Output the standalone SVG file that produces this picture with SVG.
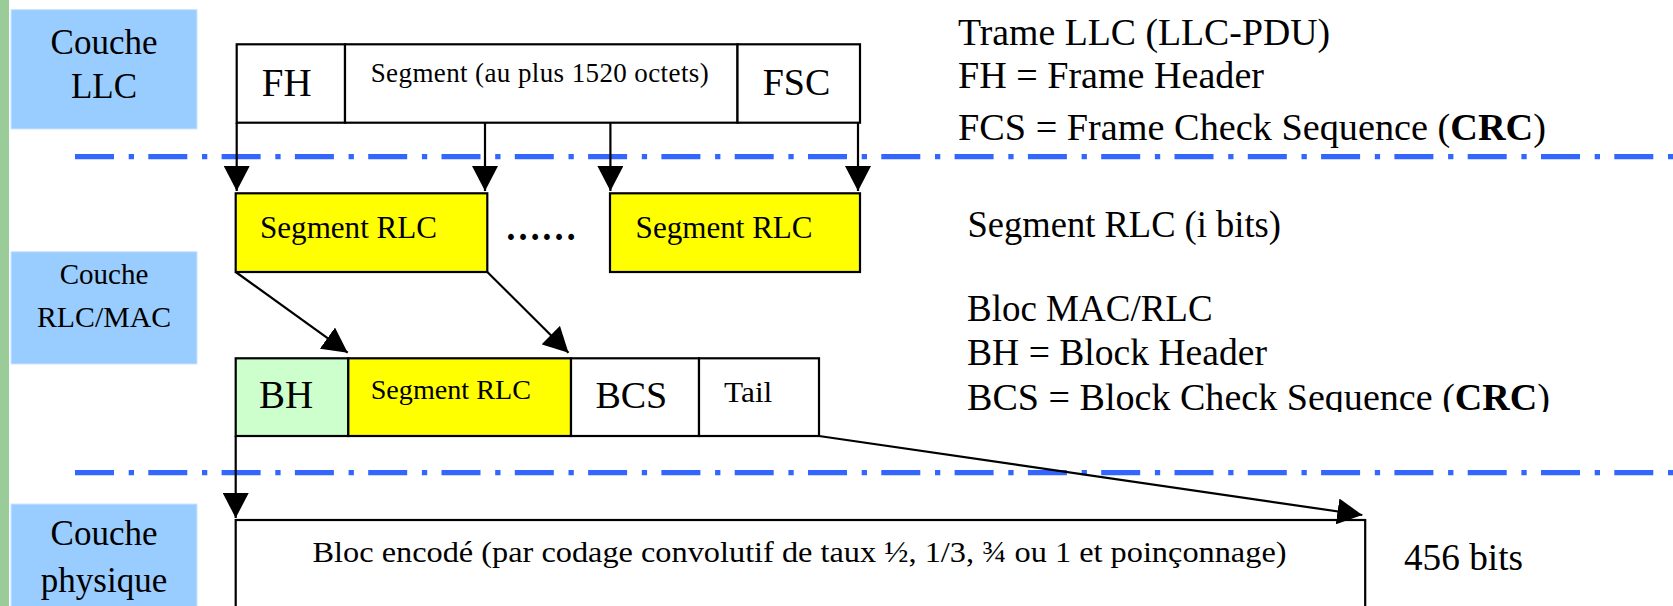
<svg xmlns="http://www.w3.org/2000/svg" width="1673" height="606" viewBox="0 0 1673 606">
<defs>
<marker id="ah" markerUnits="userSpaceOnUse" markerWidth="26" markerHeight="26" refX="25" refY="13" orient="auto" viewBox="0 0 26 26">
<path d="M0,0 L25,13 L0,26 z" fill="#000"/>
</marker>
<clipPath id="clipBCS"><rect x="900" y="370" width="700" height="42"/></clipPath>
<style>
.t{font-family:"Liberation Serif","Times New Roman",serif;fill:#000}
.layer{fill:#99CCFF;stroke:#CCE5FF;stroke-width:1}
.cell{stroke:#000;stroke-width:2.2;fill:#fff}
.y{fill:#FFFF00}
.g{fill:#CCFFCC}
.sep{stroke:#3366FF;stroke-width:5.3;stroke-dasharray:39 14.7 5.3 14.3;fill:none}
.con{stroke:#000;stroke-width:2.2;fill:none;marker-end:url(#ah)}
</style>
</defs>
<rect width="1673" height="606" fill="#fff"/>
<rect x="0" y="0" width="9" height="606" fill="#99CC99"/>

<g id="separators">
<line class="sep" x1="75" y1="156.7" x2="1673" y2="156.7"/>
<line class="sep" x1="75" y1="472.7" x2="1673" y2="472.7"/>
</g>

<g id="layer-llc">
<rect class="layer" x="11" y="9.6" width="186" height="119.4"/>
<text class="t" x="104" y="53.5" font-size="35" text-anchor="middle">Couche</text>
<text class="t" x="104" y="98" font-size="35" text-anchor="middle">LLC</text>
</g>
<g id="layer-rlcmac">
<rect class="layer" x="11" y="251.7" width="186" height="112.3"/>
<text class="t" x="104" y="284" font-size="29" text-anchor="middle">Couche</text>
<text class="t" x="104" y="326.7" font-size="29" text-anchor="middle" textLength="134" lengthAdjust="spacingAndGlyphs">RLC/MAC</text>
</g>
<g id="layer-phys">
<rect class="layer" x="11" y="504" width="186" height="110"/>
<text class="t" x="104" y="545" font-size="35" text-anchor="middle">Couche</text>
<text class="t" x="104" y="591.7" font-size="35" text-anchor="middle">physique</text>
</g>

<g id="llc-frame">
<rect class="cell" x="236.7" y="44.3" width="108.3" height="78.4"/>
<rect class="cell" x="345" y="44.3" width="392.5" height="78.4"/>
<rect class="cell" x="737.5" y="44.3" width="122.5" height="78.4"/>
<text class="t" x="286.7" y="95.7" font-size="39" text-anchor="middle">FH</text>
<text class="t" x="370.7" y="81.7" font-size="27" textLength="338" lengthAdjust="spacing">Segment (au plus 1520 octets)</text>
<text class="t" x="796.5" y="95" font-size="38" text-anchor="middle">FSC</text>
</g>

<g id="llc-legend">
<text class="t" x="958" y="45" font-size="38" textLength="372" lengthAdjust="spacingAndGlyphs">Trame LLC (LLC-PDU)</text>
<text class="t" x="958" y="88.3" font-size="38" textLength="306" lengthAdjust="spacingAndGlyphs">FH = Frame Header</text>
<text class="t" x="958" y="140" font-size="38" textLength="588" lengthAdjust="spacingAndGlyphs">FCS = Frame Check Sequence (<tspan font-weight="bold">CRC</tspan>)</text>
</g>

<g id="rlc-seg-1">
<rect class="cell y" x="235.7" y="193.3" width="251.6" height="78.7"/>
<text class="t" x="260" y="238.3" font-size="32" textLength="177" lengthAdjust="spacingAndGlyphs">Segment RLC</text>
</g>
<g id="rlc-dots">
<text class="t" x="505" y="240" font-size="37" font-weight="bold" textLength="72" lengthAdjust="spacingAndGlyphs">……</text>
</g>
<g id="rlc-seg-2">
<rect class="cell y" x="610" y="193.3" width="250" height="78.7"/>
<text class="t" x="635.6" y="238.3" font-size="32" textLength="177" lengthAdjust="spacingAndGlyphs">Segment RLC</text>
</g>
<g id="rlc-legend">
<text class="t" x="967.5" y="236.7" font-size="38" textLength="313.5" lengthAdjust="spacingAndGlyphs">Segment RLC (i bits)</text>
</g>

<g id="mac-block">
<rect class="cell g" x="235.7" y="358.3" width="112.6" height="77.7"/>
<rect class="cell y" x="348.3" y="358.3" width="222.7" height="77.7"/>
<rect class="cell" x="571" y="358.3" width="128" height="77.7"/>
<rect class="cell" x="699" y="358.3" width="120" height="77.7"/>
<text class="t" x="286" y="407.7" font-size="39" text-anchor="middle">BH</text>
<text class="t" x="370.7" y="399" font-size="28" textLength="160.3" lengthAdjust="spacingAndGlyphs">Segment RLC</text>
<text class="t" x="631.3" y="407.7" font-size="38" text-anchor="middle">BCS</text>
<text class="t" x="724" y="401.7" font-size="30" textLength="48.3" lengthAdjust="spacingAndGlyphs">Tail</text>
</g>
<g id="mac-legend">
<text class="t" x="967" y="321" font-size="38" textLength="245.6" lengthAdjust="spacingAndGlyphs">Bloc MAC/RLC</text>
<text class="t" x="967" y="365" font-size="38" textLength="300" lengthAdjust="spacingAndGlyphs">BH = Block Header</text>
<text class="t" x="967" y="410" font-size="38" textLength="583" lengthAdjust="spacingAndGlyphs" clip-path="url(#clipBCS)">BCS = Block Check Sequence (<tspan font-weight="bold">CRC</tspan>)</text>
</g>

<g id="encoded-block">
<rect class="cell" x="235.7" y="520" width="1129.5" height="120"/>
<text class="t" x="312.5" y="561.7" font-size="30" textLength="974" lengthAdjust="spacingAndGlyphs">Bloc encodé (par codage convolutif de taux ½, 1/3, ¾ ou 1 et poinçonnage)</text>
</g>
<g id="encoded-legend">
<text class="t" x="1404" y="570" font-size="38" textLength="119" lengthAdjust="spacingAndGlyphs">456 bits</text>
</g>

<g id="connectors">
<line class="con" x1="236.7" y1="122.7" x2="236.7" y2="191"/>
<line class="con" x1="485" y1="122.7" x2="485" y2="191"/>
<line class="con" x1="610.4" y1="122.7" x2="610.4" y2="191"/>
<line class="con" x1="858" y1="122.7" x2="858" y2="191"/>
<line class="con" x1="235.7" y1="272" x2="347.7" y2="352.7"/>
<line class="con" x1="487.3" y1="272" x2="568.5" y2="352.7"/>
<line class="con" x1="235.7" y1="436" x2="235.7" y2="518"/>
<line class="con" x1="819" y1="436" x2="1362.3" y2="515"/>
</g>
</svg>
